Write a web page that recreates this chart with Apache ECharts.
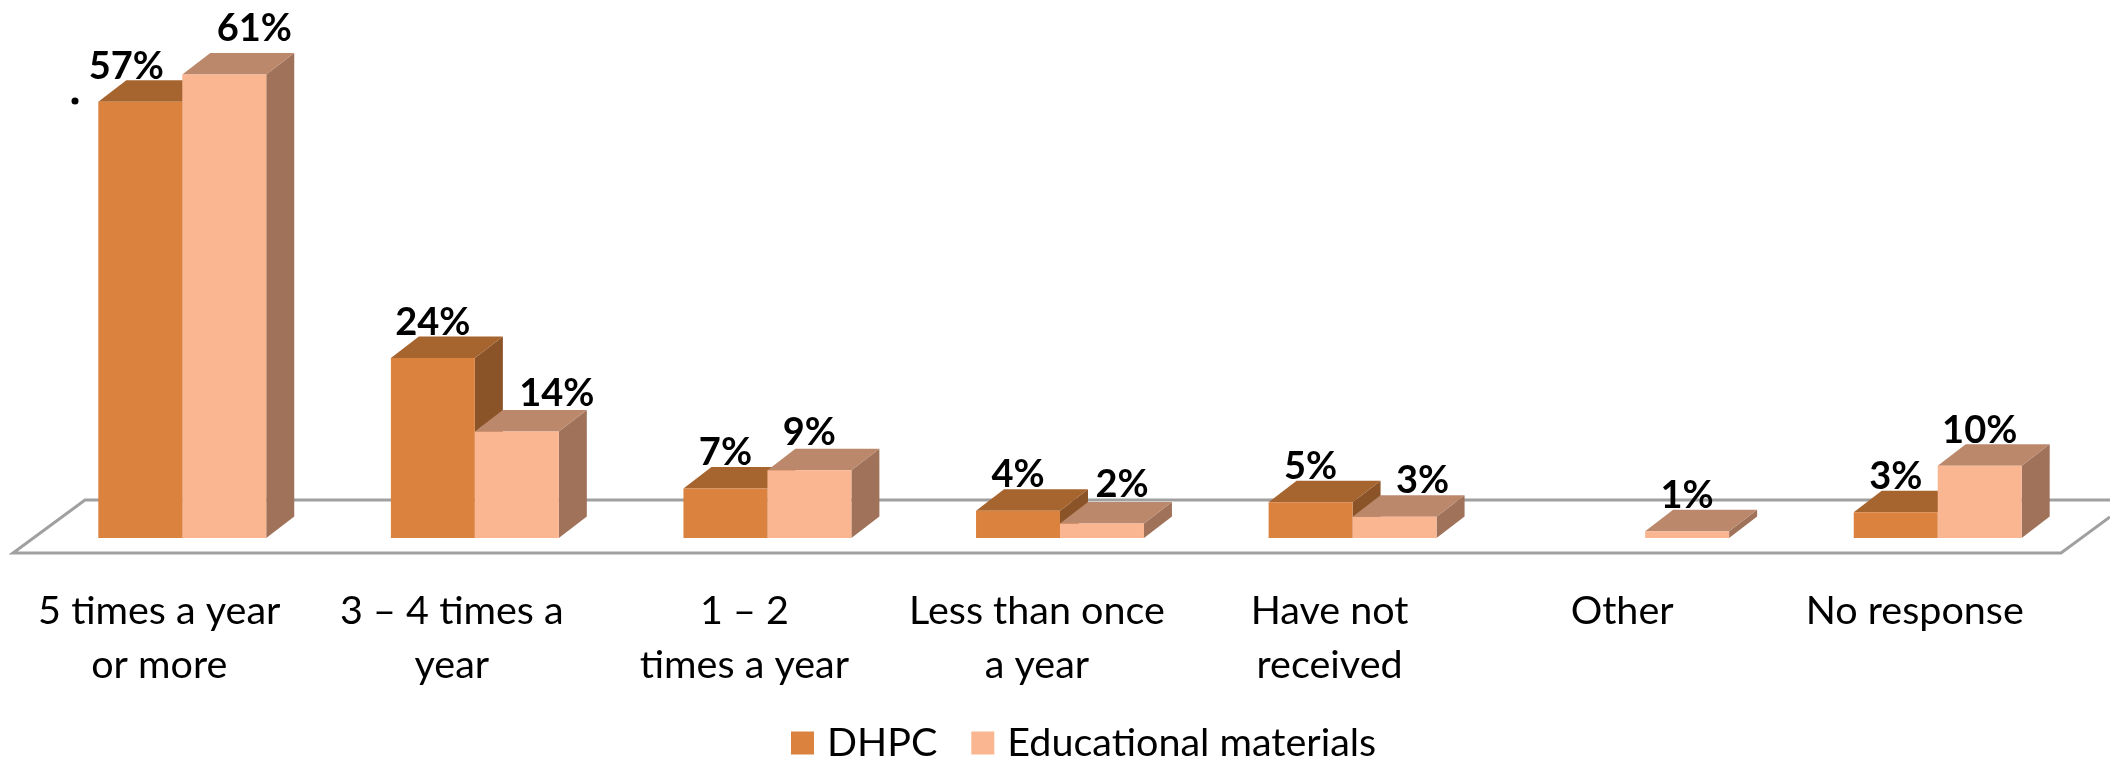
<!DOCTYPE html>
<html><head><meta charset="utf-8">
<style>html,body{margin:0;padding:0;background:#fff}#c{width:2110px;height:757px}</style>
<script src="https://cdn.jsdelivr.net/npm/echarts@6/dist/echarts.min.js"></script>
</head><body><div id="c"></div>
<script>
const categories = ['5 times a year\nor more','3 – 4 times a\nyear','1 – 2\ntimes a year','Less than once\na year','Have not\nreceived','Other','No response'];
const dhpc = [57.4,23.7,6.5,3.6,4.7,null,3.4];
const edu = [61,14,8.9,1.9,2.8,0.9,9.5];
// hand-placed label nudges of the original, in px
const dhpcLabelDx = [-14,0,0,0,0,0,0];
const eduLabelDx = [30,40,0,20,28,0,0];
const eduLabelDy = [-10,-2,-2,-3,0,0,0];
const FONT = 'Lato, Carlito, "Open Sans", sans-serif';
const DEPTH_X = 28, DEPTH_Y = 21.5, BAR_RATIO = 0.287, GROUP_SHIFT = 23;
const AREA_DX = 72, AREA_DY = 53;

function barRenderer(slot, colors, dxs, dys) {
  return function (params, api) {
    const idx = api.value(0), val = api.value(1);
    if (val == null || isNaN(val)) return;
    const band = api.size([1, 0])[0];
    const w = band * BAR_RATIO;
    const c0 = api.coord([idx, 0]), c1 = api.coord([idx, val]);
    const x0 = c0[0] + GROUP_SHIFT + (slot - 1) * w, x1 = x0 + w;
    const yb = c0[1], yt = c1[1];
    const poly = (pts, fill, z2) => ({ type: 'polygon', z2, shape: { points: pts }, style: { fill } });
    return { type: 'group', children: [
      poly([[x1, yb], [x1 + DEPTH_X, yb - DEPTH_Y], [x1 + DEPTH_X, yt - DEPTH_Y], [x1, yt]], colors.side, 1),
      poly([[x0, yt], [x0 + DEPTH_X, yt - DEPTH_Y], [x1 + DEPTH_X, yt - DEPTH_Y], [x1, yt]], colors.top, 1),
      poly([[x0, yb], [x1, yb], [x1, yt], [x0, yt]], colors.front, 2),
      { type: 'text', z2: 10, style: {
          x: (x0 + x1) / 2 + dxs[idx], y: yt - DEPTH_Y + 5 + (dys ? dys[idx] : 0),
          text: Math.round(val) + '%', align: 'center', verticalAlign: 'bottom',
          font: 'bold 38px ' + FONT, fill: '#000' } }
    ] };
  };
}
function floorRenderer(params, api) {
  const cs = params.coordSys;
  const yf = cs.y + cs.height + 15, xl = cs.x, xr = cs.x + cs.width;
  const line = { stroke: '#a0a0a0', lineWidth: 3, fill: null };
  return { type: 'polyline', silent: true, shape: { points: [
      [2110, yf - AREA_DY * (2110 - xr) / AREA_DX], [xr, yf], [xl, yf], [xl + AREA_DX, yf - AREA_DY], [2110, yf - AREA_DY]
    ] }, style: line };
}
const chart = echarts.init(document.getElementById('c'), null, { renderer: 'canvas' });
chart.setOption({
  animation: false,
  backgroundColor: '#fff',
  grid: { left: 13, right: 49, top: 6, bottom: 219, containLabel: false },
  xAxis: { type: 'category', data: categories, axisLine: { show: false }, axisTick: { show: false },
    axisLabel: { margin: 46, fontFamily: FONT, fontSize: 39.5, color: '#000', lineHeight: 54, interval: 0, align: 'center' } },
  yAxis: { type: 'value', min: 0, max: 70, show: false },
  legend: { left: 791, top: 723, padding: 0, itemWidth: 23, itemHeight: 23, itemGap: 34, icon: 'rect',
    data: ['DHPC', 'Educational materials'],
    textStyle: { fontFamily: FONT, fontSize: 39.5, color: '#000', padding: [0, 0, 0, 8] } },
  graphic: [{ type: 'circle', shape: { cx: 75, cy: 101, r: 3.5 }, style: { fill: '#000' } }],
  series: [
    { type: 'custom', name: 'floor', renderItem: floorRenderer, data: [[0, 0]], silent: true, z: 1, encode: { x: 0, y: 1 } },
    { type: 'custom', name: 'DHPC', itemStyle: { color: '#db823e' }, z: 2, encode: { x: 0, y: 1 },
      renderItem: barRenderer(0, { front: '#db823e', top: '#a6642e', side: '#8b5428' }, dhpcLabelDx),
      data: dhpc.map((v, i) => [i, v]) },
    { type: 'custom', name: 'Educational materials', itemStyle: { color: '#fab591' }, z: 2, encode: { x: 0, y: 1 },
      renderItem: barRenderer(1, { front: '#fab591', top: '#bb886c', side: '#9f7259' }, eduLabelDx, eduLabelDy),
      data: edu.map((v, i) => [i, v]) }
  ]
});
</script></body></html>
